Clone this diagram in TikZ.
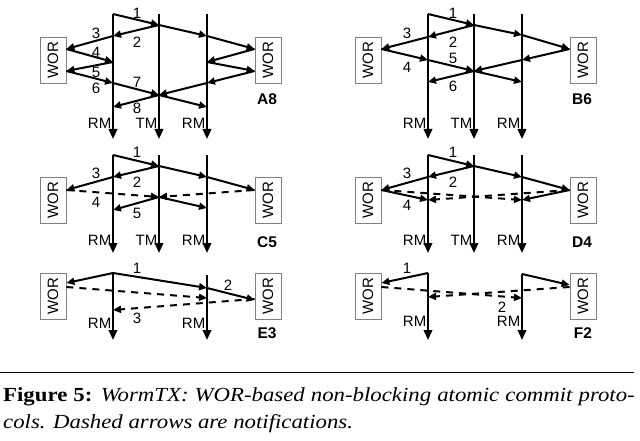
\documentclass[tikz,border=0pt]{standalone}
\usepackage{fontspec}
\usepackage{graphicx}
\setmainfont{Liberation Serif}
\setsansfont{Liberation Sans}
\usetikzlibrary{arrows.meta}

\tikzset{
	life/.style={line width=2pt,-{Triangle[length=10pt,width=8.5pt]}},
	msg/.style={line width=2pt,-{Triangle[length=8pt,width=7pt]}},
	note/.style={msg,dash pattern=on 7pt off 6pt},
	wor/.style={draw=gray,line width=0.8pt,minimum width=26pt,minimum height=46pt,inner sep=0},
	num/.style={inner sep=0},
	role/.style={anchor=east,inner sep=1.5pt},
	tag/.style={font=\sffamily\bfseries\fontsize{15.5}{15.5}\selectfont,inner sep=0},
	capline/.style={anchor=base west,inner sep=0,font=\rmfamily\fontsize{20}{24}\selectfont}
}

\begin{document}
\begin{tikzpicture}[x=1pt,y=-1pt,font=\sffamily\fontsize{15}{15}\selectfont]
	\useasboundingbox (0,0) rectangle (640,441);

	% A8
	\begin{scope}
		\coordinate (aL0) at (113,14); \coordinate (aT0) at (159,14); \coordinate (aR0) at (207,14);
		\coordinate (aL9) at (113,139); \coordinate (aT9) at (159,139); \coordinate (aR9) at (207,139);
		\coordinate (aT1) at (159,25);
		\coordinate (aL2) at (113,36); \coordinate (aR2) at (207,36);
		\coordinate (aL4) at (113,62); \coordinate (aR4) at (207,62);
		\coordinate (aL6) at (113,83); \coordinate (aR6) at (207,83);
		\coordinate (aT7) at (159,95);
		\coordinate (aL8) at (113,107); \coordinate (aR8) at (207,107);
		\node[wor] (wa) at (53,60) {\rotatebox{90}{WOR}};
		\node[wor] (wb) at (268,60) {\rotatebox{90}{WOR}};
		\draw[life] (aL0) -- (aL9);
		\draw[life] (aT0) -- (aT9);
		\draw[life] (aR0) -- (aR9);
		\draw[msg] (aL0) -- (aT1);
		\draw[msg] (aT1) -- (aL2);
		\draw[msg] (aT1) -- (aR2);
		\draw[msg] (aL2) -- ([yshift=11pt]wa.east);
		\draw[msg] (aR2) -- ([yshift=11pt]wb.west);
		\draw[msg] ([yshift=11pt]wa.east) -- (aL4);
		\draw[msg] ([yshift=11pt]wb.west) -- (aR4);
		\draw[msg] (aL4) -- ([yshift=-11pt]wa.east);
		\draw[msg] (aR4) -- ([yshift=-11pt]wb.west);
		\draw[msg] ([yshift=-11pt]wa.east) -- (aL6);
		\draw[msg] ([yshift=-11pt]wb.west) -- (aR6);
		\draw[msg] (aL6) -- (aT7);
		\draw[msg] (aR6) -- (aT7);
		\draw[msg] (aT7) -- (aL8);
		\draw[msg] (aT7) -- (aR8);
		\node[num] (an1) at (137,13) {1};
		\node[num] (an2) at (137,42) {2};
		\node[num] (an3) at (96,33) {3};
		\node[num] (an4) at (96,52) {4};
		\node[num] (an5) at (96,72) {5};
		\node[num] (an6) at (96,88) {6};
		\node[num] (an7) at (137,82) {7};
		\node[num] (an8) at (137,108) {8};
		\node[role] (arl) at (113,123) {RM};
		\node[role] (art) at (159,123) {TM};
		\node[role] (arr) at (207,123) {RM};
		\node[tag] (atag) at (267,99) {A8};
	\end{scope}

	% B6
	\begin{scope}[shift={(315,0)}]
		\coordinate (bL0) at (113,14); \coordinate (bT0) at (159,14); \coordinate (bR0) at (207,14);
		\coordinate (bL9) at (113,139); \coordinate (bT9) at (159,139); \coordinate (bR9) at (207,139);
		\coordinate (bT1) at (159,25);
		\coordinate (bL2) at (113,37); \coordinate (bR2) at (207,35);
		\coordinate (bL4) at (113,60); \coordinate (bR4) at (207,60);
		\coordinate (bT5) at (159,71);
		\coordinate (bL6) at (113,82); \coordinate (bR6) at (207,82);
		\node[wor] (wc) at (53,60) {\rotatebox{90}{WOR}};
		\node[wor] (wd) at (268,60) {\rotatebox{90}{WOR}};
		\draw[life] (bL0) -- (bL9);
		\draw[life] (bT0) -- (bT9);
		\draw[life] (bR0) -- (bR9);
		\draw[msg] (bL0) -- (bT1);
		\draw[msg] (bT1) -- (bL2);
		\draw[msg] (bT1) -- (bR2);
		\draw[msg] (bL2) -- ([yshift=11pt]wc.east);
		\draw[msg] (bR2) -- ([yshift=11pt]wd.west);
		\draw[msg] ([yshift=11pt]wc.east) -- (bL4);
		\draw[msg] ([yshift=11pt]wd.west) -- (bR4);
		\draw[msg] (bL4) -- (bT5);
		\draw[msg] (bR4) -- (bT5);
		\draw[msg] (bT5) -- (bL6);
		\draw[msg] (bT5) -- (bR6);
		\node[num] (bn1) at (138,13) {1};
		\node[num] (bn2) at (138,42) {2};
		\node[num] (bn3) at (92,33) {3};
		\node[num] (bn4) at (92,67) {4};
		\node[num] (bn5) at (138,58) {5};
		\node[num] (bn6) at (138,86) {6};
		\node[role] (brl) at (113,123) {RM};
		\node[role] (brt) at (159,123) {TM};
		\node[role] (brr) at (207,123) {RM};
		\node[tag] (btag) at (267,99) {B6};
	\end{scope}

	% C5
	\begin{scope}[shift={(0,141)}]
		\coordinate (cL0) at (113,14); \coordinate (cT0) at (159,14); \coordinate (cR0) at (207,14);
		\coordinate (cL9) at (113,112); \coordinate (cT9) at (159,112); \coordinate (cR9) at (207,112);
		\coordinate (cT1) at (159,25);
		\coordinate (cL2) at (113,36); \coordinate (cR2) at (207,36);
		\coordinate (cT4) at (159,56);
		\coordinate (cL5) at (113,69); \coordinate (cR5) at (207,67);
		\node[wor] (we) at (53,59) {\rotatebox{90}{WOR}};
		\node[wor] (wf) at (268,59) {\rotatebox{90}{WOR}};
		\draw[life] (cL0) -- (cL9);
		\draw[life] (cT0) -- (cT9);
		\draw[life] (cR0) -- (cR9);
		\draw[msg] (cL0) -- (cT1);
		\draw[msg] (cT1) -- (cL2);
		\draw[msg] (cT1) -- (cR2);
		\draw[msg] (cL2) -- ([yshift=10pt]we.east);
		\draw[msg] (cR2) -- ([yshift=10pt]wf.west);
		\draw[note] ([yshift=10pt]we.east) -- (cT4);
		\draw[note] ([yshift=10pt]wf.west) -- (cT4);
		\draw[msg] (cT4) -- (cL5);
		\draw[msg] (cT4) -- (cR5);
		\node[num] (cn1) at (137,11) {1};
		\node[num] (cn2) at (137,41) {2};
		\node[num] (cn3) at (96,32) {3};
		\node[num] (cn4) at (96,61) {4};
		\node[num] (cn5) at (137,72) {5};
		\node[role] (crl) at (113,99) {RM};
		\node[role] (crt) at (159,99) {TM};
		\node[role] (crr) at (207,99) {RM};
		\node[tag] (ctag) at (267,101) {C5};
	\end{scope}

	% D4
	\begin{scope}[shift={(315,141)}]
		\coordinate (dL0) at (113,14); \coordinate (dT0) at (159,14); \coordinate (dR0) at (207,14);
		\coordinate (dL9) at (113,112); \coordinate (dT9) at (159,112); \coordinate (dR9) at (207,112);
		\coordinate (dT1) at (159,25);
		\coordinate (dL2) at (113,36); \coordinate (dR2) at (207,36);
		\coordinate (dL4) at (113,59); \coordinate (dR4) at (207,59);
		\node[wor] (wg) at (53,59) {\rotatebox{90}{WOR}};
		\node[wor] (wh) at (268,59) {\rotatebox{90}{WOR}};
		\draw[life] (dL0) -- (dL9);
		\draw[life] (dT0) -- (dT9);
		\draw[life] (dR0) -- (dR9);
		\draw[msg] (dL0) -- (dT1);
		\draw[msg] (dT1) -- (dL2);
		\draw[msg] (dT1) -- (dR2);
		\draw[msg] (dL2) -- ([yshift=10pt]wg.east);
		\draw[msg] (dR2) -- ([yshift=10pt]wh.west);
		\draw[msg] ([yshift=10pt]wg.east) -- (dL4);
		\draw[msg] ([yshift=10pt]wh.west) -- (dR4);
		\draw[note] ([yshift=10pt]wg.east) -- (dR4);
		\draw[note] ([yshift=10pt]wh.west) -- (dL4);
		\node[num] (dn1) at (138,11) {1};
		\node[num] (dn2) at (138,41) {2};
		\node[num] (dn3) at (92,32) {3};
		\node[num] (dn4) at (92,64) {4};
		\node[role] (drl) at (113,99) {RM};
		\node[role] (drt) at (159,99) {TM};
		\node[role] (drr) at (207,99) {RM};
		\node[tag] (dtag) at (267,101) {D4};
	\end{scope}

	% E3
	\begin{scope}[shift={(0,259)}]
		\coordinate (eL0) at (113,14); \coordinate (eR0) at (207,16);
		\coordinate (eL9) at (113,81); \coordinate (eR9) at (207,81);
		\coordinate (eR1) at (207,29);
		\coordinate (eR3) at (207,39); \coordinate (eL3) at (113,51);
		\node[wor] (wi) at (53,37) {\rotatebox{90}{WOR}};
		\node[wor] (wj) at (268,37) {\rotatebox{90}{WOR}};
		\draw[life] (eL0) -- (eL9);
		\draw[life] (eR0) -- (eR9);
		\draw[msg] (eL0) -- ([yshift=13pt]wi.east);
		\draw[msg] (eL0) -- (eR1);
		\draw[msg] (eR1) -- ([yshift=-4pt]wj.west);
		\draw[note] ([yshift=9pt]wi.east) -- (eR3);
		\draw[note] ([yshift=-3pt]wj.west) -- (eL3);
		\node[num] (en1) at (137,9) {1};
		\node[num] (en2) at (228,26) {2};
		\node[num] (en3) at (137,59) {3};
		\node[role] (erl) at (113,64) {RM};
		\node[role] (err) at (207,64) {RM};
		\node[tag] (etag) at (267,74) {E3};
	\end{scope}

	% F2
	\begin{scope}[shift={(315,259)}]
		\coordinate (fL0) at (113,14); \coordinate (fR0) at (207,15);
		\coordinate (fL9) at (113,81); \coordinate (fR9) at (207,81);
		\coordinate (fL3) at (113,38); \coordinate (fR3) at (207,39);
		\node[wor] (wk) at (53,37) {\rotatebox{90}{WOR}};
		\node[wor] (wl) at (268,37) {\rotatebox{90}{WOR}};
		\draw[life] (fL0) -- (fL9);
		\draw[life] (fR0) -- (fR9);
		\draw[msg] (fL0) -- ([yshift=13pt]wk.east);
		\draw[msg] (fR0) -- ([yshift=11pt]wl.west);
		\draw[note] ([yshift=9pt]wk.east) -- (fR3);
		\draw[note] ([yshift=9pt]wl.west) -- (fL3);
		\node[num] (fn1) at (92,9) {1};
		\node[num] (fn2) at (187,48) {2};
		\node[role] (frl) at (113,62) {RM};
		\node[role] (frr) at (207,62) {RM};
		\node[tag] (ftag) at (268,74) {F2};
	\end{scope}

	% caption
	\draw[line width=0.9pt] (0,372) -- (634,372);
	\node[capline] (cap1) at (3,401) {\scalebox{1.14}[1]{\makebox[554pt][s]{\textbf{Figure 5:} \textit{WormTX: WOR-based non-blocking atomic commit proto-}}}};
	\node[capline] (cap2) at (3,428) {\scalebox{1.14}[1]{\itshape cols. Dashed arrows are notifications.}};
\end{tikzpicture}
\end{document}
